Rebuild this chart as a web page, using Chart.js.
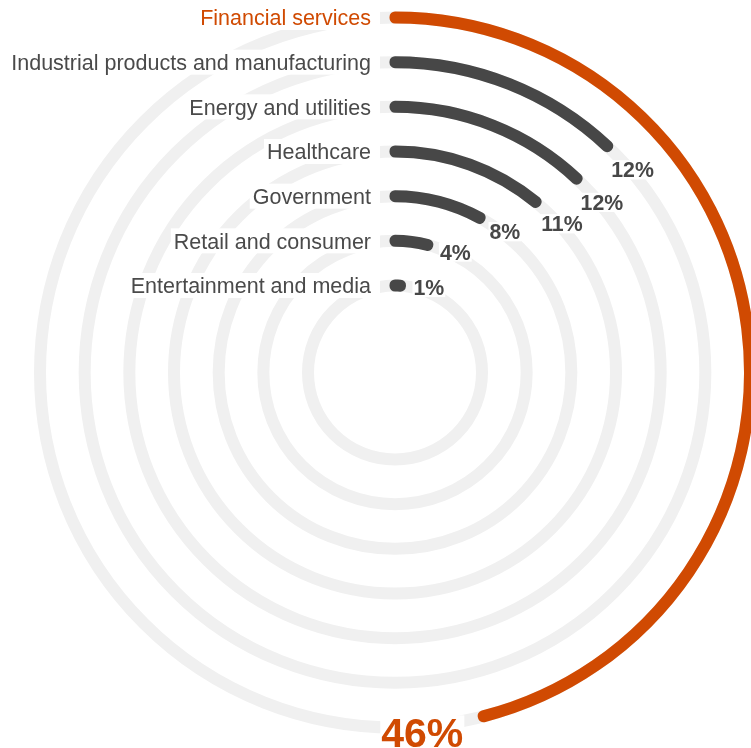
<!DOCTYPE html>
<html>
<head>
<meta charset="utf-8">
<script src="https://cdn.jsdelivr.net/npm/chart.js@4.4.1/dist/chart.umd.min.js"></script>
<style>
  html, body { margin: 0; padding: 0; background: #fff; }
  #wrap { position: relative; width: 751px; height: 748px; }
</style>
</head>
<body>
<div id="wrap"><canvas id="radialChart"></canvas></div>
<script>
// sectors, outer ring first
const categories = [
    'Financial services',
    'Industrial products and manufacturing',
    'Energy and utilities',
    'Healthcare',
    'Government',
    'Retail and consumer',
    'Entertainment and media'
];
const shares = [46, 12, 12, 11, 8, 4, 1];
const ringColors = ['#d04a02', '#474747', '#474747', '#474747', '#474747', '#474747', '#474747'];
const labelColors = ['#d04a02', '#4a4a4a', '#4a4a4a', '#4a4a4a', '#4a4a4a', '#4a4a4a', '#4a4a4a'];
const valueFontSizes = [41, 21.3, 21.3, 21.3, 21.3, 21.3, 21.3];

const FONT = "'Liberation Sans', Arial, sans-serif";
const TRACK = '#f0f0f0';
const BAR_W = 11;
const OUTER = 355.5, INNER = 86.5;

// one thin ring per sector, transparent spacer rings between them
const spacerWeight = (OUTER - INNER - shares.length) / (shares.length - 1);
const datasets = [];
shares.forEach(function (v, i) {
    datasets.push({
        label: categories[i],
        data: [v, 100 - v],
        weight: 1,
        backgroundColor: [ringColors[i], 'rgba(0,0,0,0)'],
        borderColor: [ringColors[i], 'rgba(0,0,0,0)'],
        borderWidth: [BAR_W, 0],
        borderJoinStyle: 'round',
        borderAlign: 'center',
        isBar: true
    });
    if (i < shares.length - 1) {
        datasets.push({
            data: [100],
            weight: spacerWeight,
            backgroundColor: 'rgba(0,0,0,0)',
            borderWidth: 0
        });
    }
});

function ringInfo(chart) {
    const out = [];
    chart.data.datasets.forEach(function (ds, di) {
        if (!ds.isBar) return;
        const arc = chart.getDatasetMeta(di).data[0];
        const p = arc.getProps(['x', 'y', 'innerRadius', 'outerRadius', 'endAngle']);
        out.push({ x: p.x, y: p.y, r: (p.innerRadius + p.outerRadius) / 2, end: p.endAngle });
    });
    return out;
}

// grey full-circle tracks behind the bars
const trackPlugin = {
    id: 'tracks',
    beforeDatasetsDraw(chart) {
        const c = chart.ctx;
        c.save();
        c.strokeStyle = TRACK;
        c.lineWidth = 12;
        ringInfo(chart).forEach(function (g) {
            c.beginPath();
            c.arc(g.x, g.y, g.r, 0, Math.PI * 2);
            c.stroke();
        });
        c.restore();
    }
};

// category names at the start of each ring, percentages at the end
const labelPlugin = {
    id: 'ringLabels',
    afterDatasetsDraw(chart) {
        const c = chart.ctx;
        c.save();
        ringInfo(chart).forEach(function (g, i) {
            // category label
            const size = 21.5;
            c.font = size + 'px ' + FONT;
            const w = c.measureText(categories[i]).width;
            const right = g.x - 24;
            const ty = g.y - g.r;
            c.fillStyle = '#fff';
            c.fillRect(right - w - 3, ty - 12.5, w + 3 + 9, 25);
            c.fillStyle = labelColors[i];
            c.textAlign = 'right';
            c.textBaseline = 'alphabetic';
            c.fillText(categories[i], right, ty + size * 0.716 / 2);

            // value label
            const vs = valueFontSizes[i];
            const txt = shares[i] + '%';
            c.font = 'bold ' + vs + 'px ' + FONT;
            const vw = c.measureText(txt).width;
            const ex = g.x + g.r * Math.cos(g.end);
            const ey = g.y + g.r * Math.sin(g.end);
            const tx = -Math.sin(g.end), tyy = Math.cos(g.end);
            const d = BAR_W / 2 + 0.45 * vs - 2 + vw / 2;
            const cx = ex + tx * d;
            const cy = ey + tyy * d;
            const ch = vs * 0.716;
            c.fillStyle = '#fff';
            c.fillRect(cx - vw / 2 - 1, cy - ch / 2 - 2, vw + 2, ch + 4);
            c.fillStyle = ringColors[i];
            c.textAlign = 'center';
            c.fillText(txt, cx, cy + ch / 2);
        });
        c.restore();
    }
};

new Chart(document.getElementById('radialChart'), {
    type: 'doughnut',
    data: { labels: ['value', 'rest'], datasets: datasets },
    options: {
        responsive: true,
        maintainAspectRatio: false,
        animation: false,
        events: [],
        radius: OUTER,
        cutout: (INNER / OUTER * 100) + '%',
        layout: { padding: { left: 39, right: 0, top: 0, bottom: 3 } },
        plugins: {
            legend: { display: false },
            tooltip: { enabled: false }
        }
    },
    plugins: [trackPlugin, labelPlugin]
});
</script>
</body>
</html>
